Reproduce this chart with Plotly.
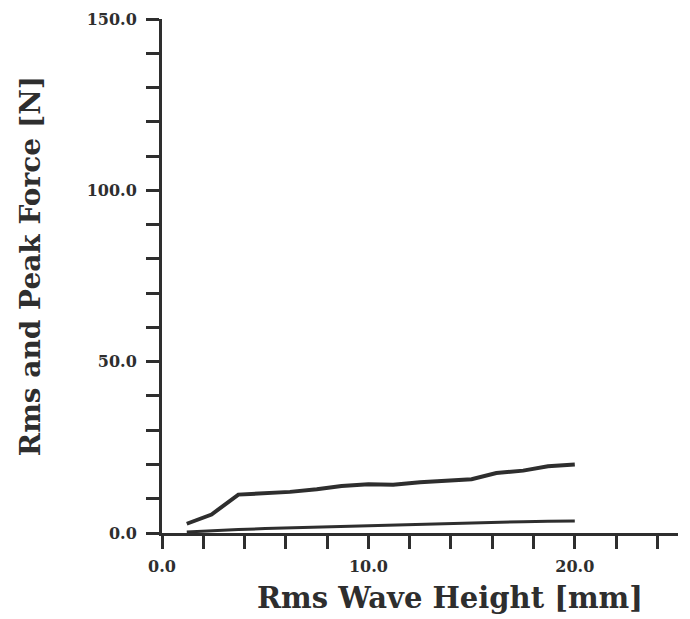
import plotly.graph_objects as go

wave_height = [1.2, 2.4, 3.7, 5.0, 6.2, 7.5, 8.7, 10.0, 11.2, 12.5, 13.7, 15.0, 16.2, 17.5, 18.7, 20.0]
peak_force = [2.7, 5.4, 11.2, 11.5, 12.0, 12.8, 13.7, 14.2, 14.1, 14.8, 15.3, 15.7, 17.5, 18.2, 19.5, 20.0]
rms_force = [0.3, 0.7, 1.0, 1.3, 1.5, 1.7, 1.9, 2.1, 2.4, 2.5, 2.7, 3.0, 3.1, 3.3, 3.4, 3.5]

x_tick_vals = [0, 10, 20]
x_tick_text = ["0.0", "10.0", "20.0"]
y_tick_vals = [0, 50, 100, 150]
y_tick_text = ["0.0", "50.0", "100.0", "150.0"]

x_title = "Rms Wave Height [mm]"
y_title = "Rms and Peak Force [N]"

ink = "#2e2e2e"
fnt = "DejaVu Serif"

fig = go.Figure()
fig.add_trace(go.Scatter(x=wave_height, y=peak_force, mode="lines",
                         line=dict(color=ink, width=4), showlegend=False))
fig.add_trace(go.Scatter(x=wave_height, y=rms_force, mode="lines",
                         line=dict(color=ink, width=3), showlegend=False))

axis_common = dict(
    showgrid=False, zeroline=False, automargin=False,
    showline=True, linecolor=ink, linewidth=3,
    tickmode="array",
    ticks="outside", ticklen=13, tickwidth=3, tickcolor=ink,
    tickfont=dict(size=16, family=fnt, weight="bold", color=ink),
)

# page body has an 8px default margin, so the figure is 8px smaller each way
fig.update_layout(
    width=682, height=611,
    margin=dict(l=154, r=12, t=11, b=86),
    paper_bgcolor="white", plot_bgcolor="white",
    font=dict(family=fnt, color=ink),
    xaxis=dict(range=[0, 25], tickvals=x_tick_vals, ticktext=x_tick_text,
               ticklabelstandoff=4,
               minor=dict(dtick=2, tick0=0, ticks="outside", ticklen=13, tickwidth=3,
                          tickcolor=ink, showgrid=False),
               **axis_common),
    yaxis=dict(range=[0, 150], tickvals=y_tick_vals, ticktext=y_tick_text,
               ticklabelstandoff=6,
               minor=dict(dtick=10, tick0=0, ticks="outside", ticklen=13, tickwidth=3,
                          tickcolor=ink, showgrid=False),
               **axis_common),
    annotations=[
        dict(text=x_title, xref="paper", yref="paper", x=0.558, y=-0.127,
             xanchor="center", yanchor="middle", showarrow=False,
             font=dict(size=29, family=fnt, weight="bold", color=ink)),
        dict(text=y_title, xref="paper", yref="paper", x=-0.256, y=0.519,
             xanchor="center", yanchor="middle", showarrow=False, textangle=-90,
             font=dict(size=28, family=fnt, weight="bold", color=ink)),
    ],
)

fig.write_html("out.html")
